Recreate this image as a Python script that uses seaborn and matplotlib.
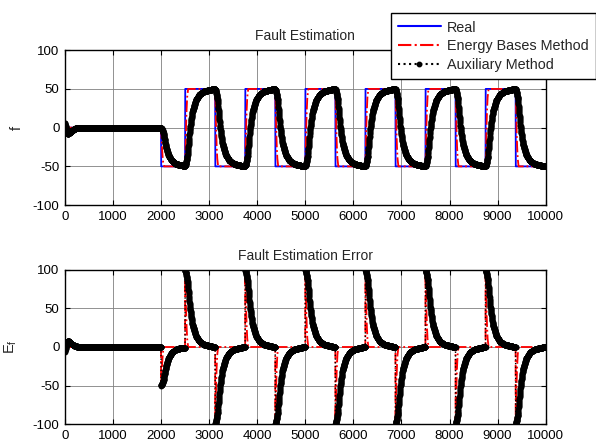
import numpy as np
import pandas as pd
import matplotlib
matplotlib.use("Agg")
import matplotlib.pyplot as plt
from matplotlib.lines import Line2D
import seaborn as sns

# ---- data -------------------------------------------------------------
# fault switching instants and the level the fault takes after each switch
switch_times = [2000, 2500, 3125, 3750, 4375, 5000, 5625, 6250, 6875, 7500, 8125, 8750, 9375]
switch_levels = [-50, 50, -50, 50, -50, 50, -50, 50, -50, 50, -50, 50, -50]

# fraction of a step still unrecovered by the auxiliary-method estimate
aux_lag_offsets = [0, 20, 50, 100, 150, 220, 300, 400, 600]
aux_lag_remaining = [1.0, 0.96, 0.86, 0.52, 0.30, 0.15, 0.07, 0.03, 0.0]

# fraction of a step still unrecovered by the energy-based estimate
energy_lag_offsets = [0, 10, 25, 40, 60]
energy_lag_remaining = [1.0, 0.70, 0.35, 0.12, 0.0]

# start-up transient of the auxiliary-method estimate
aux_start_times = [0, 25, 60, 110, 160, 220, 300]
aux_start_values = [6, -2, -8, -6, -3, -1, 0]

x_ticks = [0, 1000, 2000, 3000, 4000, 5000, 6000, 7000, 8000, 9000, 10000]
y_ticks = [-100, -50, 0, 50, 100]

# ---- signals ----------------------------------------------------------
t = np.arange(0, 10001, 2)
levels = np.concatenate([[0], switch_levels])
steps = np.diff(levels)

real = np.zeros_like(t, dtype=float)
err_aux = np.zeros_like(t, dtype=float)
err_energy = np.zeros_like(t, dtype=float)
for tk, dk in zip(switch_times, steps):
    after = t >= tk
    real[after] += dk
    err_aux[after] += dk * np.interp(t[after] - tk, aux_lag_offsets, aux_lag_remaining)
    err_energy[after] += dk * np.interp(t[after] - tk, energy_lag_offsets, energy_lag_remaining)

start = np.interp(t, aux_start_times, aux_start_values)
est_aux = real - err_aux + start
est_energy = real - err_energy
err_aux = real - est_aux

df = pd.DataFrame({"t": t, "real": real, "energy": est_energy, "aux": est_aux,
                   "e_energy": err_energy, "e_aux": err_aux})

# ---- figure -----------------------------------------------------------
sns.set_style("white")
plt.rcParams["font.family"] = ["Liberation Sans", "DejaVu Sans"]
plt.rcParams["mathtext.fontset"] = "custom"
plt.rcParams["mathtext.rm"] = "Liberation Sans"

fig = plt.figure(figsize=(5.96, 4.44), dpi=100)
ax1 = fig.add_axes([0.109, 0.538, 0.8066, 0.349])
ax2 = fig.add_axes([0.109, 0.045, 0.8066, 0.347])

blue = "#0000ff"
red = "#ff0000"

sns.lineplot(data=df, x="t", y="real", ax=ax1, color=blue, lw=1.3,
             estimator=None, sort=False)
sns.lineplot(data=df, x="t", y="energy", ax=ax1, color=red, lw=1.3, linestyle="-.",
             estimator=None, sort=False)
sns.lineplot(data=df, x="t", y="aux", ax=ax1, color="black", lw=1.0, linestyle=":",
             marker="o", markersize=4.2, markeredgewidth=0, estimator=None, sort=False)

sns.lineplot(data=df, x="t", y="e_energy", ax=ax2, color=red, lw=1.3, linestyle="-.",
             estimator=None, sort=False)
sns.lineplot(data=df, x="t", y="e_aux", ax=ax2, color="black", lw=1.0, linestyle=":",
             marker="o", markersize=4.2, markeredgewidth=0, estimator=None, sort=False)

for ax, title in [(ax1, "Fault Estimation"), (ax2, "Fault Estimation Error")]:
    ax.set_xlim(0, 10000)
    ax.set_ylim(-100, 100)
    ax.set_xticks(x_ticks)
    ax.set_yticks(y_ticks)
    ax.set_xticklabels([str(v) for v in x_ticks])
    ax.set_yticklabels([str(v) for v in y_ticks])
    ax.grid(True, color="#808080", lw=0.6, linestyle="-")
    ax.set_axisbelow(True)
    ax.tick_params(direction="in", length=3.5, width=0.8, labelsize=9.5, pad=4,
                   top=True, right=True, bottom=True, left=True, colors="black")
    for s in ax.spines.values():
        s.set_color("black")
        s.set_linewidth(1.0)
    ax.set_xlabel("")
    ax.set_title(title, fontsize=10, pad=7)

ax1.set_ylabel("f", fontsize=10.5)
ax1.yaxis.set_label_coords(-0.085, 0.5)
ax2.set_ylabel(r"E$_\mathregular{f}$", fontsize=10.5)
ax2.yaxis.set_label_coords(-0.096, 0.5)

handles = [
    Line2D([], [], color=blue, lw=1.5),
    Line2D([], [], color=red, lw=1.5, linestyle="-."),
    Line2D([], [], color="black", lw=1.5, linestyle=":", marker="o", markersize=3.2),
]
leg = fig.legend(handles, ["Real", "Energy Bases Method", "Auxiliary Method"],
                 loc="upper right", bbox_to_anchor=(1.0, 0.97), fontsize=10.4,
                 frameon=True, fancybox=False, framealpha=1, edgecolor="black",
                 handlelength=3.0, handletextpad=0.42, labelspacing=0.32,
                 borderpad=0.5, numpoints=1, borderaxespad=0)
leg.get_frame().set_linewidth(1.0)

fig.savefig("out.png", dpi=100)
